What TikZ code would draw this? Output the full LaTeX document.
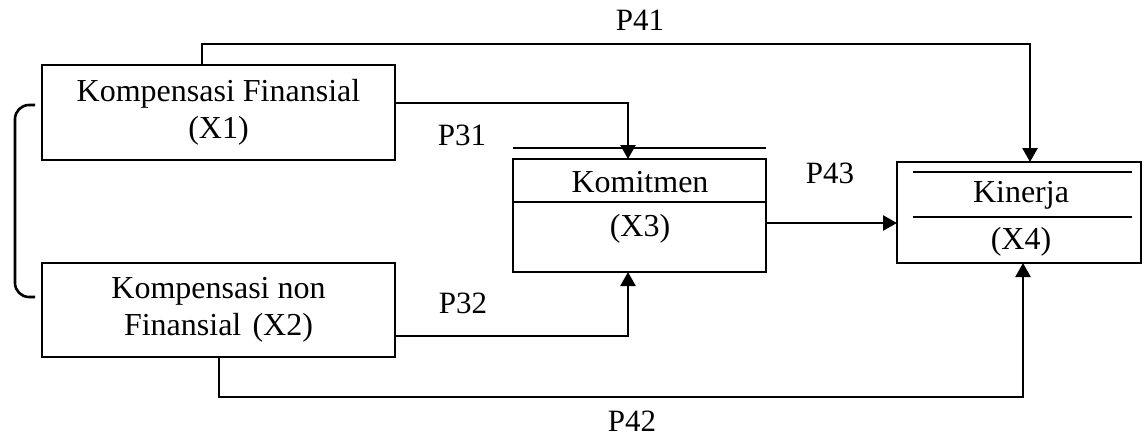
\documentclass[tikz,border=0pt]{standalone}
\usepackage{fontspec}
\setmainfont{Liberation Serif}
\usetikzlibrary{arrows.meta}
\begin{document}
\begin{tikzpicture}[x=0.5pt,y=-0.5pt,
  line width=1.3pt,
  box/.style={draw, rectangle, inner sep=0pt, outer sep=0pt, align=center,
              font=\fontsize{16}{18.5}\selectfont},
  txt/.style={inner sep=0pt, font=\fontsize{16}{18.5}\selectfont},
  lbl/.style={inner sep=0pt, font=\fontsize{15.5}{18}\selectfont},
  arr/.style={-{Triangle[length=7pt,width=7.5pt]}}]
\useasboundingbox (0,0) rectangle (1144,436);
% boxes
\node[box, minimum width=176.5pt, minimum height=47.5pt] (x1) at (218.5,112.5) {Kompensasi Finansial\\(X1)};
\node[box, minimum width=176.5pt, minimum height=47pt] (x2) at (218.5,310) {Kompensasi non\\Finansial\hspace{0.35em}(X2)};
\node[box, minimum width=126.5pt, minimum height=56.5pt] (x3) at (639.5,215.5) {};
\node[box, minimum width=122pt, minimum height=50.5pt] (x4) at (1019,212.5) {};
% inner lines
\draw ([yshift=5.5pt]x3.north west) -- ([yshift=5.5pt]x3.north east);
\draw ([yshift=-21.5pt]x3.north west) -- ([yshift=-21.5pt]x3.north east);
\draw ([xshift=8pt,yshift=-5pt]x4.north west) -- ([xshift=-4.5pt,yshift=-5pt]x4.north east);
\draw ([xshift=8pt,yshift=-27.5pt]x4.north west) -- ([xshift=-4.5pt,yshift=-27.5pt]x4.north east);
% texts
\node[txt] (t3a) at (640,182) {Komitmen};
\node[txt] (t3b) at (640,229) {(X3)};
\node[txt] (t4a) at (1021,195) {Kinerja};
\node[txt] (t4b) at (1021,242) {(X4)};
% bracket
\coordinate (bt) at (35,105);
\coordinate (bb) at (35,297);
\draw[rounded corners=7pt] (bt) -- (15,105) -- (15,297) -- (bb);
% connectors
\coordinate (c41a) at (202,44);
\coordinate (c41b) at (1030,44);
\draw[arr] (x1.north -| c41a) -- (c41a) -- (c41b) -- (x4.north -| c41b);
\coordinate (c31) at (628,103);
\draw[arr] (x1.east |- c31) -- (c31) -- (x3.north -| c31);
\coordinate (c32) at (628,336);
\draw[arr] (x2.east |- c32) -- (c32) -- (x3.south -| c32);
\coordinate (c42a) at (219,397);
\coordinate (c42b) at (1023,397);
\draw[arr] (x2.south -| c42a) -- (c42a) -- (c42b) -- (x4.south -| c42b);
\coordinate (c43) at (766,223);
\draw[arr] (x3.east |- c43) -- (x4.west |- c43);
% labels
\node[lbl] (p41) at (640,20) {P41};
\node[lbl] (p31) at (462,135) {P31};
\node[lbl] (p43) at (830,173) {P43};
\node[lbl] (p32) at (463,303) {P32};
\node[lbl] (p42) at (632,421) {P42};
\end{tikzpicture}
\end{document}
